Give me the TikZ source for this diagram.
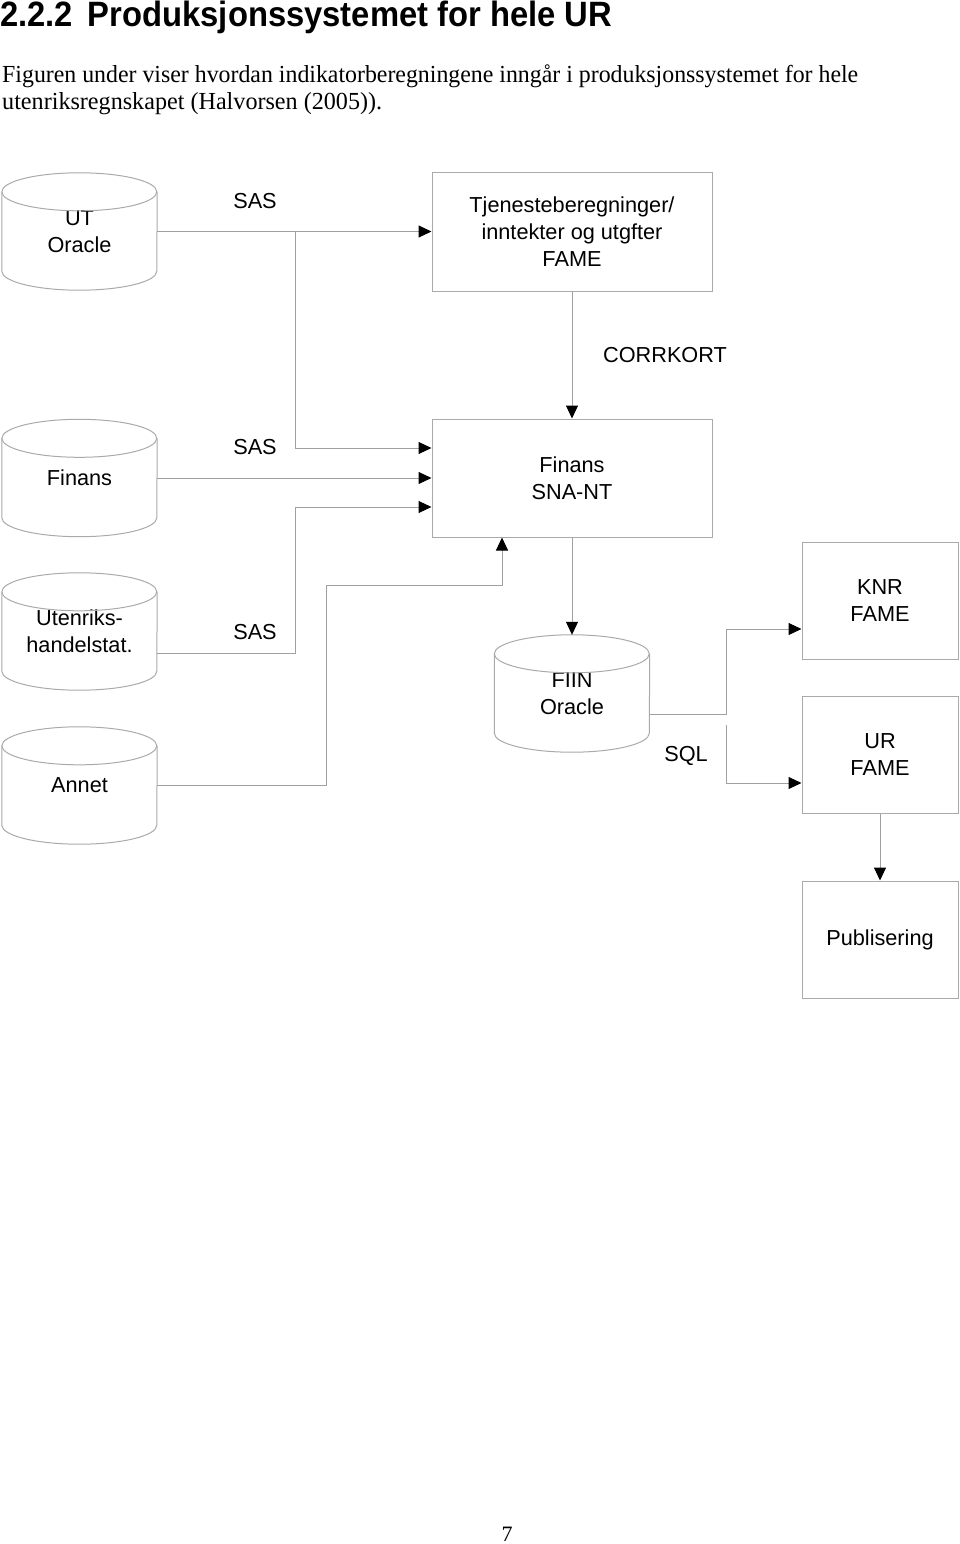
\documentclass[tikz,border=0pt]{standalone}
\usepackage{fontspec}
\setmainfont{Liberation Serif}
\setsansfont{Liberation Sans}
\usetikzlibrary{arrows.meta,calc}
\definecolor{lg}{RGB}{160,160,160}
\definecolor{bg}{RGB}{170,170,170}
\newcommand\dbshape[1]{%
  \draw[bg, line width=1pt] ([yshift=-19pt]#1.north west) arc[start angle=180,end angle=-180,x radius=77.5pt,y radius=19pt];
  \draw[bg, line width=1pt] ([yshift=-19pt]#1.north west) -- ([yshift=19pt]#1.south west)
     arc[start angle=180,end angle=360,x radius=77.5pt,y radius=19pt] -- ([yshift=-19pt]#1.north east);
}
\begin{document}
\begin{tikzpicture}[x=1pt,y=-1pt,
  lbl/.style={font=\sffamily\fontsize{21.7}{27}\selectfont, inner sep=0pt, align=center},
  procbox/.style={lbl, draw=bg, line width=1pt},
  dbnode/.style={lbl, minimum width=155pt, minimum height=117pt},
  conn/.style={draw=lg, line width=1pt, -{Triangle[length=13pt,width=12pt,color=black]}}
]
\useasboundingbox (0,0) rectangle (960,1544);
\fill[white] (0,0) rectangle (960,1544);

\node[anchor=base west, inner sep=0pt] (head) at (0,27)
  {\resizebox{612pt}{25.5pt}{\sffamily\bfseries 2.2.2\hspace{0.45em}Produksjonssystemet for hele UR}};
\node[anchor=base west, inner sep=0pt] (intro1) at (2,83)
  {\resizebox{856pt}{\height}{\fontsize{24.5}{28}\selectfont Figuren under viser hvordan indikatorberegningene inngår i produksjonssystemet for hele}};
\node[anchor=base west, inner sep=0pt] (intro2) at (2,110)
  {\resizebox{380pt}{\height}{\fontsize{24.5}{28}\selectfont utenriksregnskapet (Halvorsen (2005)).}};
\node[anchor=base, inner sep=0pt] (pg) at (507,1541) {\fontsize{22}{26}\selectfont 7};

% nodes
\node[dbnode] (ut) at (79.5,231.5) {UT\\Oracle};
\node[procbox, minimum width=280pt, minimum height=119pt] (tj) at (572,231.5) {Tjenesteberegninger/\\inntekter og utgfter\\FAME};
\node[dbnode] (fin) at (79.5,478) {Finans};
\node[procbox, minimum width=280pt, minimum height=118pt] (sna) at (572,478) {Finans\\SNA-NT};
\node[dbnode] (ute) at (79.5,631.5) {Utenriks-\\handelstat.};
\node[dbnode] (ann) at (79.5,785.5) {Annet};
\node[dbnode] (fiin) at (572,693.5) {FIIN\\Oracle};
\node[procbox, minimum width=156pt, minimum height=117pt] (knr) at (880,600.5) {KNR\\FAME};
\node[procbox, minimum width=156pt, minimum height=117pt] (ur) at (880,754.5) {UR\\FAME};
\node[procbox, minimum width=156pt, minimum height=117pt] (pub) at (880,939.5) {Publisering};

\dbshape{ut}
\dbshape{fin}
\dbshape{ute}
\dbshape{ann}
\dbshape{fiin}

% labels
\node[lbl] (sas1) at (255,201) {SAS};
\node[lbl] (sas2) at (255,447) {SAS};
\node[lbl] (sas3) at (255,632) {SAS};
\node[lbl] (corr) at (665,355) {CORRKORT};
\node[lbl] (sql) at (686,756) {SQL};

% coordinates
\coordinate (j1) at (295,231.5);
\coordinate (j2) at (295,507);
\coordinate (b1) at (326,585);
\coordinate (s1) at (726,714);
\coordinate (s2) at (726,725);

% connectors
\draw[conn] (ut.east) -- (tj.west);
\draw[conn] (j1) |- ($(sna.west)+(0,-30)$);
\draw[conn] (fin.east) -- (sna.west);
\draw[conn] ($(ute.east)+(0,21.5)$) -| (j2) -- ($(sna.west)+(0,29)$);
\draw[conn] (ann.east) -| (b1) -| ($(sna.south)+(-70,0)$);
\draw[conn] (tj.south) -- (sna.north);
\draw[conn] (sna.south) -- (fiin.north);
\draw[conn] ($(fiin.east)+(0,20.5)$) -- (s1) |- ($(knr.west)+(0,28.5)$);
\draw[conn] (s2) |- ($(ur.west)+(0,28.5)$);
\draw[conn] (ur.south) -- (pub.north);
\end{tikzpicture}
\end{document}
